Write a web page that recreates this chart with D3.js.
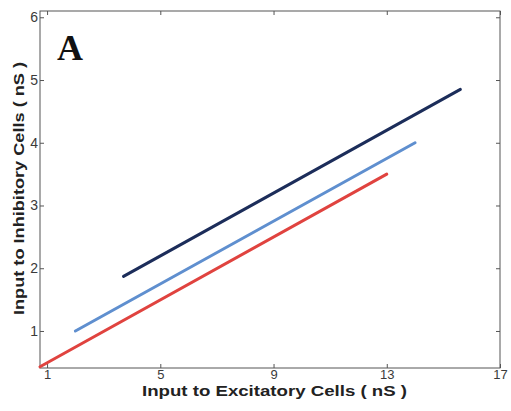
<!DOCTYPE html>
<html>
<head>
<meta charset="utf-8">
<script src="https://cdn.jsdelivr.net/npm/d3@7"></script>
<style>
  html, body { margin: 0; padding: 0; background: #fff; }
  svg { display: block; }
  .tick text { font-family: "Liberation Sans", Arial, sans-serif; font-size: 14px; fill: #3a3a3a; }
  .x-bottom .tick text { font-size: 13px; }
</style>
</head>
<body>
<svg id="chart" width="511" height="411"></svg>
<script>
// Input to excitatory cells (x) vs input to inhibitory cells (y), nS
const seriesNames = ["high", "mid", "low"];
const seriesColors = ["#1c2d5a", "#5f8fcf", "#e0433f"];
const seriesX = [[3.7, 15.6], [2.0, 14.0], [0.75, 13.0]];
const seriesY = [[1.87, 4.85], [1.0, 4.0], [0.43, 3.5]];
const xTicks = [1, 5, 9, 13, 17];
const yTicks = [1, 2, 3, 4, 5, 6];
const panelLabel = "A";
const xLabel = "Input to Excitatory Cells ( nS )";
const yLabel = "Input to Inhibitory Cells ( nS )";

const svg = d3.select("#chart");
const m = { left: 40, right: 11, top: 11, bottom: 43 };
const W = 511, H = 411;

const x = d3.scaleLinear().domain([0.75, 17]).range([m.left, W - m.right]);
const y = d3.scaleLinear().domain([0.41, 6.1]).range([H - m.bottom, m.top]);

const tickLen = 4;
const axisColor = "#555";

// frame ticks on all four sides, pointing inward
function styleAxis(g) {
  g.select(".domain").remove();
  g.selectAll(".tick line").attr("stroke", axisColor);
}

svg.append("g")
  .attr("class", "x-bottom")
  .attr("transform", `translate(0,${y.range()[0]})`)
  .call(d3.axisBottom(x).tickValues(xTicks).tickFormat(d3.format("d"))
    .tickSizeInner(-tickLen).tickSizeOuter(0).tickPadding(1.5))
  .call(styleAxis);

svg.append("g")
  .attr("transform", `translate(0,${y.range()[1]})`)
  .call(d3.axisTop(x).tickValues(xTicks).tickSizeInner(-tickLen).tickSizeOuter(0).tickFormat(""))
  .call(styleAxis);

svg.append("g")
  .attr("transform", `translate(${x.range()[0]},0)`)
  .call(d3.axisLeft(y).tickValues(yTicks).tickFormat(d3.format("d"))
    .tickSizeInner(-tickLen).tickSizeOuter(0).tickPadding(2))
  .call(styleAxis);

svg.append("g")
  .attr("transform", `translate(${x.range()[1]},0)`)
  .call(d3.axisRight(y).tickValues(yTicks).tickSizeInner(-tickLen).tickSizeOuter(0).tickFormat(""))
  .call(styleAxis);

// plot box
svg.append("rect")
  .attr("x", x.range()[0]).attr("y", y.range()[1])
  .attr("width", x.range()[1] - x.range()[0])
  .attr("height", y.range()[0] - y.range()[1])
  .attr("fill", "none").attr("stroke", axisColor).attr("stroke-width", 1);

// data lines
const line = d3.line().x(d => x(d[0])).y(d => y(d[1]));
seriesNames.forEach((name, i) => {
  const pts = seriesX[i].map((v, j) => [v, seriesY[i][j]]);
  svg.append("path")
    .datum(pts)
    .attr("class", "series " + name)
    .attr("d", line)
    .attr("fill", "none")
    .attr("stroke", seriesColors[i])
    .attr("stroke-width", 3)
    .attr("stroke-linecap", "round");
});

// panel letter
svg.append("text")
  .attr("x", 57).attr("y", 60)
  .attr("font-family", "Liberation Serif, Times New Roman, serif")
  .attr("font-weight", "bold")
  .attr("font-size", 36)
  .attr("fill", "#111")
  .text(panelLabel);

// axis titles
svg.append("text")
  .attr("x", 142).attr("y", 396)
  .attr("font-family", "Liberation Sans, Arial, sans-serif")
  .attr("font-weight", "bold")
  .attr("font-size", 15)
  .attr("fill", "#222")
  .attr("textLength", 265)
  .attr("lengthAdjust", "spacingAndGlyphs")
  .text(xLabel);

svg.append("text")
  .attr("transform", "translate(24,315) rotate(-90)")
  .attr("font-family", "Liberation Sans, Arial, sans-serif")
  .attr("font-weight", "bold")
  .attr("font-size", 15)
  .attr("fill", "#222")
  .attr("textLength", 253)
  .attr("lengthAdjust", "spacingAndGlyphs")
  .text(yLabel);
</script>
</body>
</html>
